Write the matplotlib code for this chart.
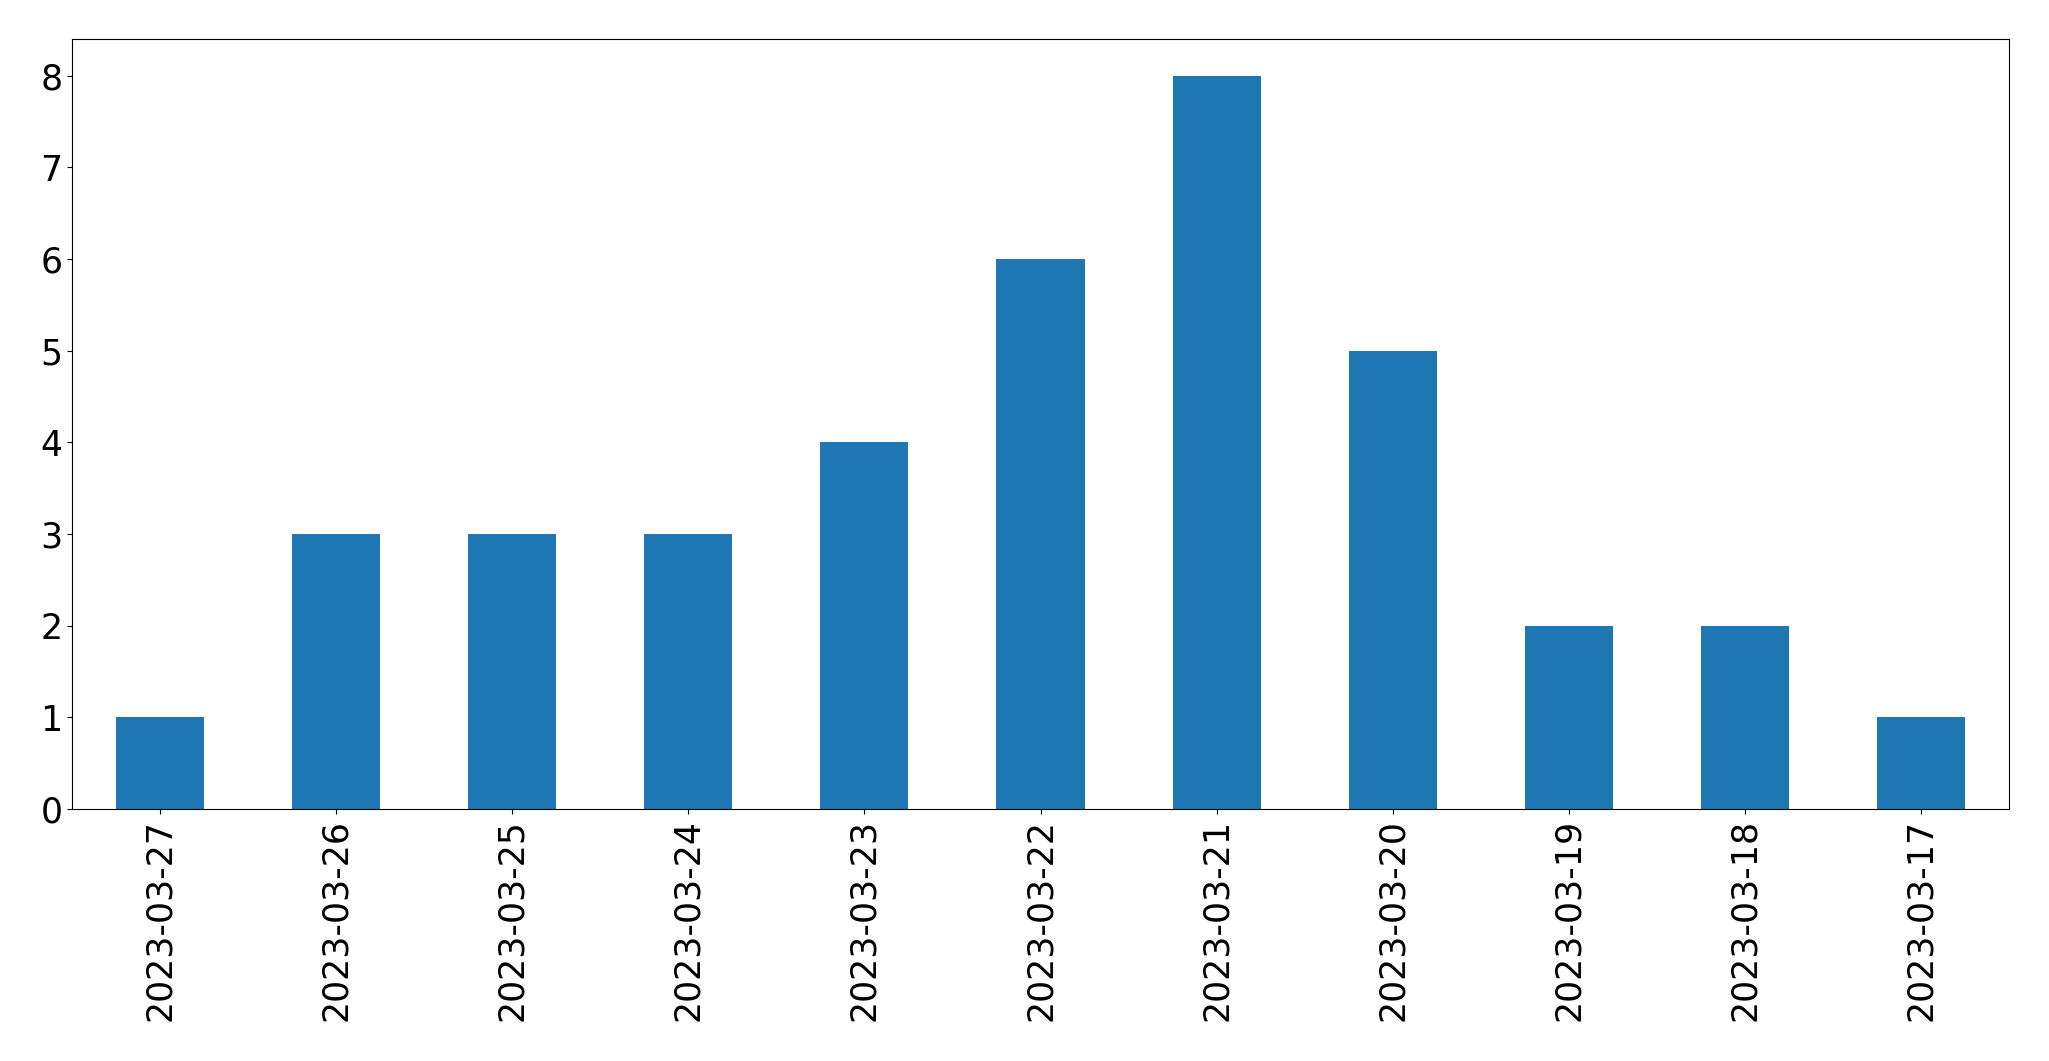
import matplotlib
matplotlib.use("Agg")
import matplotlib.pyplot as plt

dates = ["2023-03-27", "2023-03-26", "2023-03-25", "2023-03-24", "2023-03-23",
         "2023-03-22", "2023-03-21", "2023-03-20", "2023-03-19", "2023-03-18",
         "2023-03-17"]
counts = [1, 3, 3, 3, 4, 6, 8, 5, 2, 2, 1]

fig = plt.figure(figsize=(20.49, 10.61), dpi=100)
ax = fig.add_axes([72/2049, 1-809/1061, (2009-72)/2049, (809-39)/1061])
x = list(range(len(dates)))
ax.bar(x, counts, width=0.5, color="#1f77b4")
ax.set_xlim(-0.5, len(dates) - 0.5)
ax.set_ylim(0, 8.4)
ax.set_xticks(x)
ax.set_xticklabels(dates, rotation=90)
ax.tick_params(axis="both", labelsize=25)
fig.savefig("out.png", dpi=100)
